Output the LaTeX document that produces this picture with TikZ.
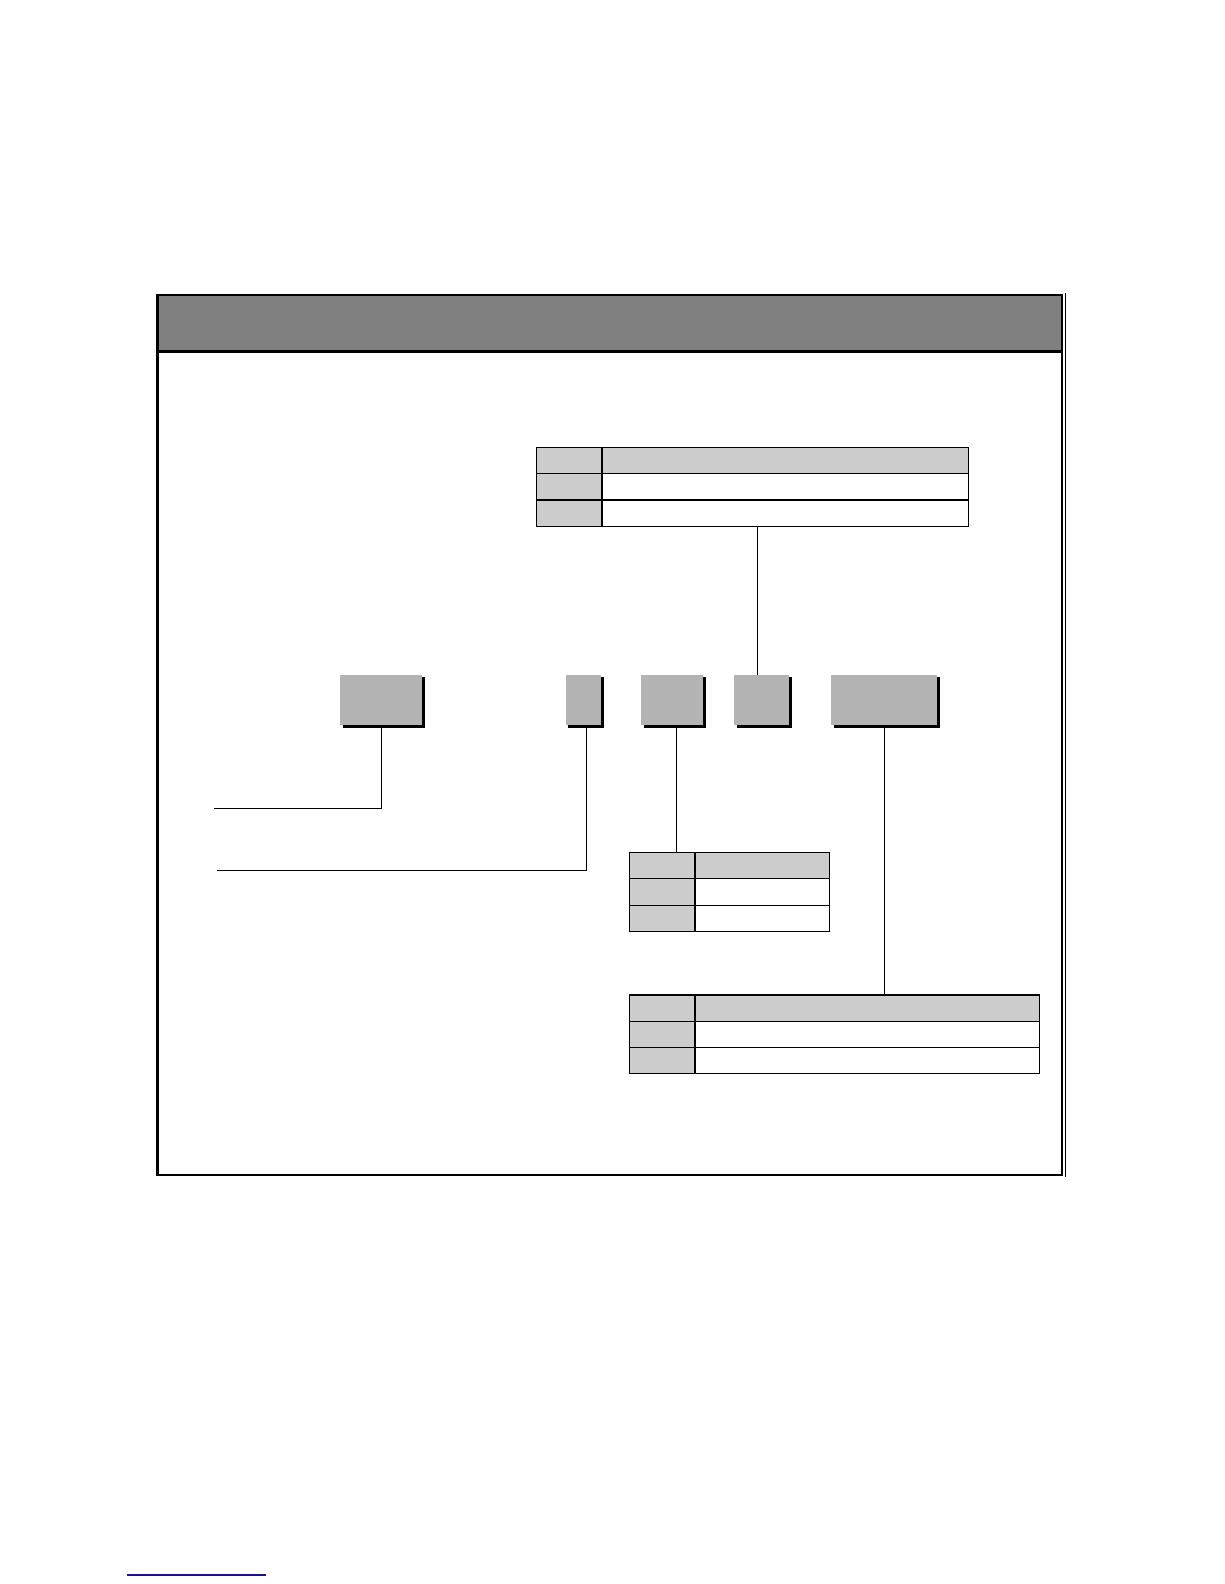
\documentclass[tikz,border=0pt]{standalone}
\usetikzlibrary{positioning,shadows}
\definecolor{headgray}{RGB}{128,128,128}
\definecolor{boxgray}{RGB}{179,179,179}
\definecolor{cellgray}{RGB}{204,204,204}
\definecolor{linkblue}{RGB}{20,20,150}
\tikzset{
  field/.style={rectangle, fill=boxgray, inner sep=0pt, outer sep=0pt, minimum height=50pt,
    anchor=north west, drop shadow={shadow xshift=2.5pt, shadow yshift=-2.5pt, fill=black, opacity=1}},
  keycell/.style={rectangle, draw, fill=cellgray, line width=1.2pt, inner sep=0pt, outer sep=0pt,
    minimum width=65pt, minimum height=26pt},
  headcell/.style={keycell, minimum width=#1},
  valcell/.style={keycell, fill=white, minimum width=#1},
  wire/.style={line width=1.1pt}
}
\begin{document}
\begin{tikzpicture}[x=1pt, y=-1pt]
\useasboundingbox (0,0) rectangle (1212,1568);
% frame and header
\fill[headgray] (156,292) rectangle (1051,348);
\draw[line width=2.2pt] (156,292) rectangle (1051,1163);
\draw[line width=2.2pt] (156,348) -- (1051,348);
\draw[line width=0.9pt] (1054.5,290) -- (1054.5,1165);
% fields
\node[field, minimum width=81pt] (b1) at (337,668) {};
\node[field, minimum width=35pt] (b2) at (560,668) {};
\node[field, minimum width=61pt] (b3) at (635,668) {};
\node[field, minimum width=54pt] (b4) at (727,668) {};
\node[field, minimum width=105pt] (b5) at (823,668) {};
% table above
\node[keycell, anchor=north west] (t1k1) at (531,443) {};
\node[headcell=363pt, right=0pt of t1k1] (t1v1) {};
\node[keycell, below=0pt of t1k1] (t1k2) {};
\node[valcell=363pt, right=0pt of t1k2] (t1v2) {};
\node[keycell, below=0pt of t1k2] (t1k3) {};
\node[valcell=363pt, right=0pt of t1k3] (t1v3) {};
% table middle
\node[keycell, anchor=north west] (t2k1) at (623,844) {};
\node[headcell=133pt, right=0pt of t2k1] (t2v1) {};
\node[keycell, below=0pt of t2k1] (t2k2) {};
\node[valcell=133pt, right=0pt of t2k2] (t2v2) {};
\node[keycell, below=0pt of t2k2] (t2k3) {};
\node[valcell=133pt, right=0pt of t2k3] (t2v3) {};
% table below
\node[keycell, anchor=north west] (t3k1) at (623,985) {};
\node[headcell=341pt, right=0pt of t3k1] (t3v1) {};
\node[keycell, below=0pt of t3k1] (t3k2) {};
\node[valcell=341pt, right=0pt of t3k2] (t3v2) {};
\node[keycell, below=0pt of t3k2] (t3k3) {};
\node[valcell=341pt, right=0pt of t3k3] (t3v3) {};
% connectors
\coordinate (e1) at (212,800);
\coordinate (e2) at (215,862);
\draw[wire] (b1.south) |- (e1);
\draw[wire] ([xshift=3pt]b2.south) |- (e2);
\draw[wire] ([xshift=4pt]b3.south) -- ([xshift=4pt]b3.south |- t2k1.north);
\draw[wire] ([xshift=-4pt]b4.north) -- ([xshift=-4pt]b4.north |- t1v3.south);
\draw[wire] (b5.south) -- (b5.south |- t3v1.north);
% link underline
\draw[linkblue, line width=1.4pt] (126,1559) -- (263,1559);
\end{tikzpicture}
\end{document}
